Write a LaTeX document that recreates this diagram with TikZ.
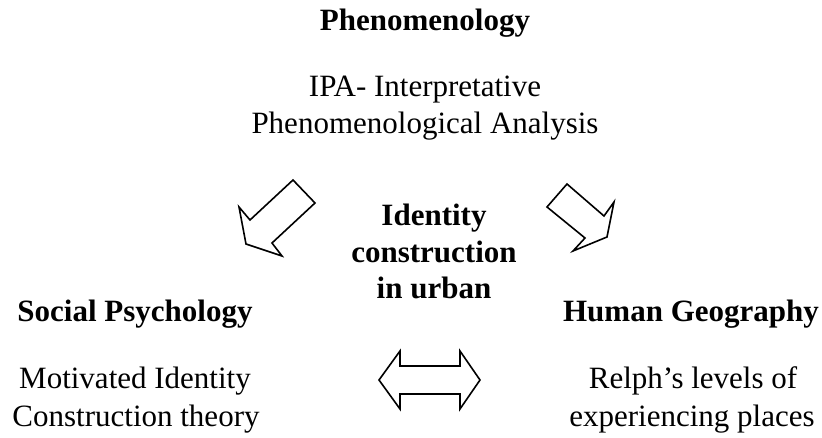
\documentclass[tikz,border=0pt]{standalone}
\usepackage{fontspec}
\setmainfont{Liberation Serif}
\begin{document}
\begin{tikzpicture}[x=1pt,y=-1pt,
  head/.style={font=\fontsize{31}{36}\selectfont\bfseries, anchor=base, inner sep=0pt},
  body/.style={font=\fontsize{31}{36}\selectfont, anchor=base, inner sep=0pt},
  blockarrow/.style={draw=black, fill=white, line width=1.6pt, line join=miter}]
  \useasboundingbox (0,0) rectangle (822,438);

  % top heading and method
  \node[head] (phen) at (425,31) {Phenomenology};
  \node[body] (ipaA) at (425,97) {IPA- Interpretative};
  \node[body] (ipaB) at (425,134) {Phenomenological Analysis};

  % central topic
  \node[head] (idA) at (434,226) {Identity};
  \node[head] (idB) at (434,263) {construction};
  \node[head] (idC) at (434,299) {in urban};

  % left branch
  \node[head] (soc) at (135,322) {Social Psychology};
  \node[body] (socA) at (135,388) {Motivated Identity};
  \node[body] (socB) at (136,426) {Construction theory};

  % right branch
  \node[head] (geo) at (691,322) {Human Geography};
  \node[body] (geoA) at (693,388) {Relph’s levels of};
  \node[body] (geoB) at (692,426) {experiencing places};

  % block arrow pointing down-left
  \draw[blockarrow] (293,180) -- (315,203) -- (272,243) -- (282,256)
    -- (246,244) -- (239,207) -- (250,220) -- cycle;

  % block arrow pointing down-right
  \draw[blockarrow] (567,184) -- (547,207) -- (585,238) -- (573,251)
    -- (607,237) -- (614,202) -- (604,216) -- cycle;

  % double-headed block arrow
  \draw[blockarrow] (379,380) -- (400,351) -- (400,366) -- (460,366)
    -- (460,351) -- (480,380) -- (460,409) -- (460,394) -- (400,394)
    -- (400,409) -- cycle;
\end{tikzpicture}
\end{document}
